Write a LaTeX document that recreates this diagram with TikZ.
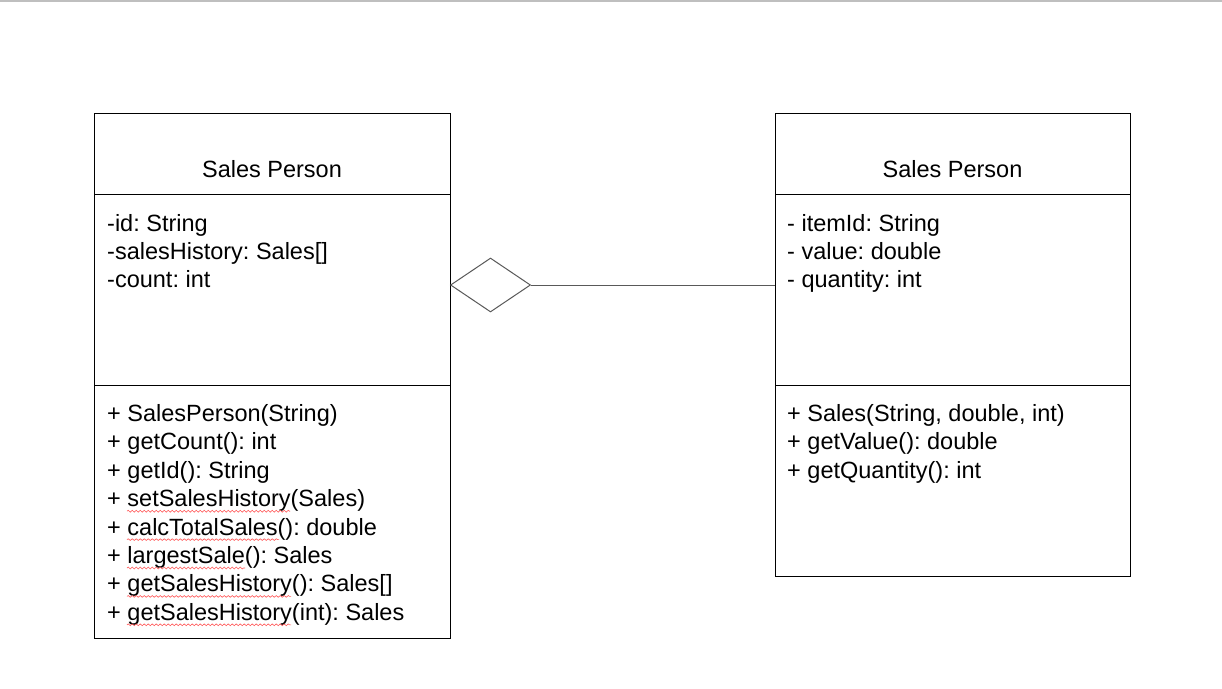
\documentclass[tikz,border=0pt]{standalone}
\usepackage{fontspec}
\setmainfont{Liberation Sans}
\frenchspacing
\usetikzlibrary{positioning}
\usetikzlibrary{shapes.geometric}
\usetikzlibrary{decorations.pathmorphing}
\tikzset{%
  compart/.style = {rectangle,draw,line width=1pt,inner sep=0pt,
        outer sep=0pt},
  member/.style = {anchor=base west,inner sep=0pt,
        font=\fontsize{23.5}{28.4}\selectfont},
  classname/.style = {anchor=base,inner sep=0pt,
        font=\fontsize{23.5}{28.4}\selectfont},
  squiggle/.style = {draw=red!65,line width=0.6pt,decorate,
        decoration={snake,amplitude=0.9pt,segment length=4pt}},
  aggr/.style = {diamond,draw=black!65,line width=1pt,inner sep=0pt,
        minimum width=80pt,minimum height=54pt},
  link/.style = {draw=black!65,line width=1pt}
}

\begin{document}
\begin{tikzpicture}[x=1pt,y=-1pt]
        \fill[white] (0,0) rectangle (1222,688);
        \useasboundingbox (0,0) rectangle (1222,688);
        \draw[black!25,line width=1.5pt] (0,0.75) -- (1222,0.75);

        % left class
        \node[compart,minimum width=356pt,minimum height=81pt] (sp-head) at (272,153.5) {};
        \node[compart,minimum width=356pt,minimum height=191pt] (sp-attr) [below=0pt of sp-head] {};
        \node[compart,minimum width=356pt,minimum height=253pt] (sp-meth) [below=0pt of sp-attr] {};
        \node[classname] (sp-name) at (272,177.5) {Sales Person};
        \foreach \txt [count=\i] in {-id: String, -salesHistory: Sales[], -count: int}
            \node[member] (sp-a\i) at (107,{231+28.4*(\i-1)}) {\txt};
        \foreach \txt [count=\i] in {+ SalesPerson(String), + getCount(): int,
            + getId(): String, + setSalesHistory(Sales), + calcTotalSales(): double,
            + largestSale(): Sales, + getSalesHistory(): Sales[],
            + getSalesHistory(int): Sales}
            \node[member] (sp-m\i) at (107,{421.5+28.4*(\i-1)}) {\txt};

        % right class
        \node[compart,minimum width=355pt,minimum height=81pt] (sa-head) at (952.5,153.5) {};
        \node[compart,minimum width=355pt,minimum height=191pt] (sa-attr) [below=0pt of sa-head] {};
        \node[compart,minimum width=355pt,minimum height=191pt] (sa-meth) [below=0pt of sa-attr] {};
        \node[classname] (sa-name) at (952.5,177.5) {Sales Person};
        \foreach \txt [count=\i] in {- itemId: String, - value: double, - quantity: int}
            \node[member] (sa-a\i) at (787,{231+28.4*(\i-1)}) {\txt};
        \foreach \txt [count=\i] in {{+ Sales(String, double, int)},
            + getValue(): double, + getQuantity(): int}
            \node[member] (sa-m\i) at (787,{421.5+28.4*(\i-1)}) {\txt};

        % aggregation
        \node[aggr,anchor=west] (agg) at (450,285) {};
        \draw[link] (agg.east) -- (agg.east -| sa-attr.west);

        % spell check marks
        \draw[squiggle] ([shift={(20,4.5)}]sp-m4.base west) -- ++(163,0);
        \draw[squiggle] ([shift={(20,4.5)}]sp-m5.base west) -- ++(152,0);
        \draw[squiggle] ([shift={(20,4.5)}]sp-m6.base west) -- ++(118,0);
        \draw[squiggle] ([shift={(20,4.5)}]sp-m7.base west) -- ++(164,0);
        \draw[squiggle] ([shift={(20,4.5)}]sp-m8.base west) -- ++(164,0);

    \end{tikzpicture}
\end{document}
